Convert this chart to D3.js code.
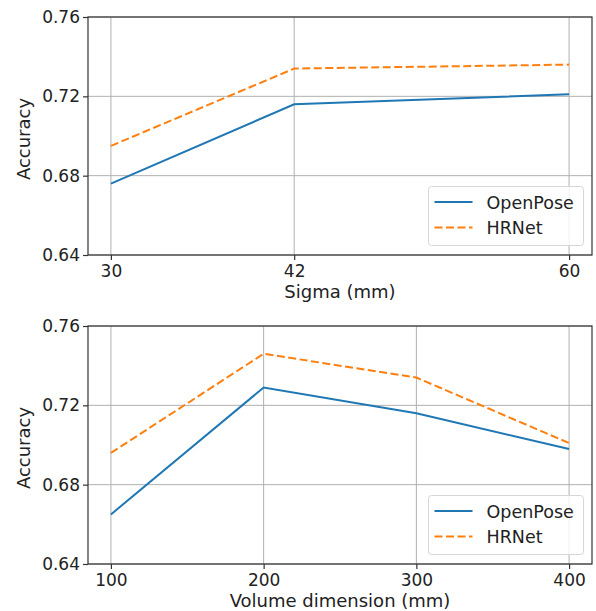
<!DOCTYPE html>
<html>
<head>
<meta charset="utf-8">
<script src="https://cdn.jsdelivr.net/npm/d3@7/dist/d3.min.js"></script>
<style>
  body { margin: 0; background: #fff; }
  svg { font-family: "DejaVu Sans", sans-serif; }
</style>
</head>
<body>
<div id="chart"></div>
<script>
(function(){

	var sigma = [30, 42, 60];
	var sigmaOpenPose = [0.676, 0.716, 0.721];
	var sigmaHRNet = [0.695, 0.734, 0.736];

	var volume = [100, 200, 300, 400];
	var volumeOpenPose = [0.665, 0.729, 0.716, 0.698];
	var volumeHRNet = [0.696, 0.746, 0.734, 0.701];

	var yTicks = [0.64, 0.68, 0.72, 0.76];
	var seriesNames = ["OpenPose", "HRNet"];
	var colors = ["#1f77b4", "#ff7f0e"];

	var width = 596;
	var height = 611;
	var svg = d3.select("div#chart")
		.append("svg")
		.attr("width", width)
		.attr("height", height);

	function panel(top, bottom, xs, s1, s2, xLabel){
		var left = 88, right = 592;
		var g = svg.append("g");
		var span = d3.max(xs) - d3.min(xs);
		var x = d3.scaleLinear()
			.domain([d3.min(xs) - span * 0.05, d3.max(xs) + span * 0.05])
			.range([left, right]);
		var y = d3.scaleLinear().domain([0.64, 0.76]).range([bottom, top]);

		// grid
		g.selectAll(".gx").data(xs).enter().append("line")
			.attr("x1", function(d){ return x(d); })
			.attr("x2", function(d){ return x(d); })
			.attr("y1", top).attr("y2", bottom)
			.attr("stroke", "#b0b0b0").attr("stroke-width", 1);
		g.selectAll(".gy").data(yTicks).enter().append("line")
			.attr("y1", function(d){ return y(d); })
			.attr("y2", function(d){ return y(d); })
			.attr("x1", left).attr("x2", right)
			.attr("stroke", "#b0b0b0").attr("stroke-width", 1);

		var line = d3.line()
			.x(function(d){ return x(d[0]); })
			.y(function(d){ return y(d[1]); });

		g.append("path")
			.datum(d3.zip(xs, s1))
			.attr("d", line)
			.attr("fill", "none")
			.attr("stroke", colors[0])
			.attr("stroke-width", 2);
		g.append("path")
			.datum(d3.zip(xs, s2))
			.attr("d", line)
			.attr("fill", "none")
			.attr("stroke", colors[1])
			.attr("stroke-width", 2)
			.attr("stroke-dasharray", "8,3.5");

		// frame
		g.append("rect")
			.attr("x", left).attr("y", top)
			.attr("width", right - left).attr("height", bottom - top)
			.attr("fill", "none").attr("stroke", "#333").attr("stroke-width", 1.2);

		var xAxis = g.append("g")
			.attr("transform", "translate(0," + bottom + ")")
			.call(d3.axisBottom(x).tickValues(xs).tickSize(5).tickPadding(5).tickFormat(d3.format("d")));
		var yAxis = g.append("g")
			.attr("transform", "translate(" + left + ",0)")
			.call(d3.axisLeft(y).tickValues(yTicks).tickSize(5).tickPadding(3).tickFormat(d3.format(".2f")));
		[xAxis, yAxis].forEach(function(a){
			a.select(".domain").remove();
			a.selectAll("line").attr("stroke", "#333").attr("stroke-width", 1.2);
			a.selectAll("text").attr("font-size", 17).attr("fill", "#222")
				.attr("font-family", "DejaVu Sans");
		});

		g.append("text")
			.attr("x", (left + right) / 2)
			.attr("y", bottom + 42.5)
			.attr("text-anchor", "middle")
			.attr("font-size", 18)
			.attr("fill", "#222")
			.text(xLabel);
		g.append("text")
			.attr("transform", "translate(30," + ((top + bottom) / 2 + 3) + ") rotate(-90)")
			.attr("text-anchor", "middle")
			.attr("font-size", 18)
			.attr("fill", "#222")
			.text("Accuracy");

		// legend
		var lg = g.append("g").attr("transform", "translate(428.5," + (bottom - 68.5) + ")");
		lg.append("rect")
			.attr("width", 155).attr("height", 59).attr("rx", 3)
			.attr("fill", "#fff").attr("fill-opacity", 0.8)
			.attr("stroke", "#d6d6d6").attr("stroke-width", 1);
		seriesNames.forEach(function(name, i){
			var cy = 15.5 + i * 25.5;
			lg.append("line")
				.attr("x1", 6).attr("x2", 44)
				.attr("y1", cy).attr("y2", cy)
				.attr("stroke", colors[i]).attr("stroke-width", 2)
				.attr("stroke-dasharray", i == 1 ? "8,3.5" : null);
			lg.append("text")
				.attr("x", 58).attr("y", cy + 6.5)
				.attr("font-size", 17.5)
				.attr("fill", "#222")
				.text(name);
		});
	}

	panel(17, 255, sigma, sigmaOpenPose, sigmaHRNet, "Sigma (mm)");
	panel(326, 564, volume, volumeOpenPose, volumeHRNet, "Volume dimension (mm)");

})();
</script>
</body>
</html>
